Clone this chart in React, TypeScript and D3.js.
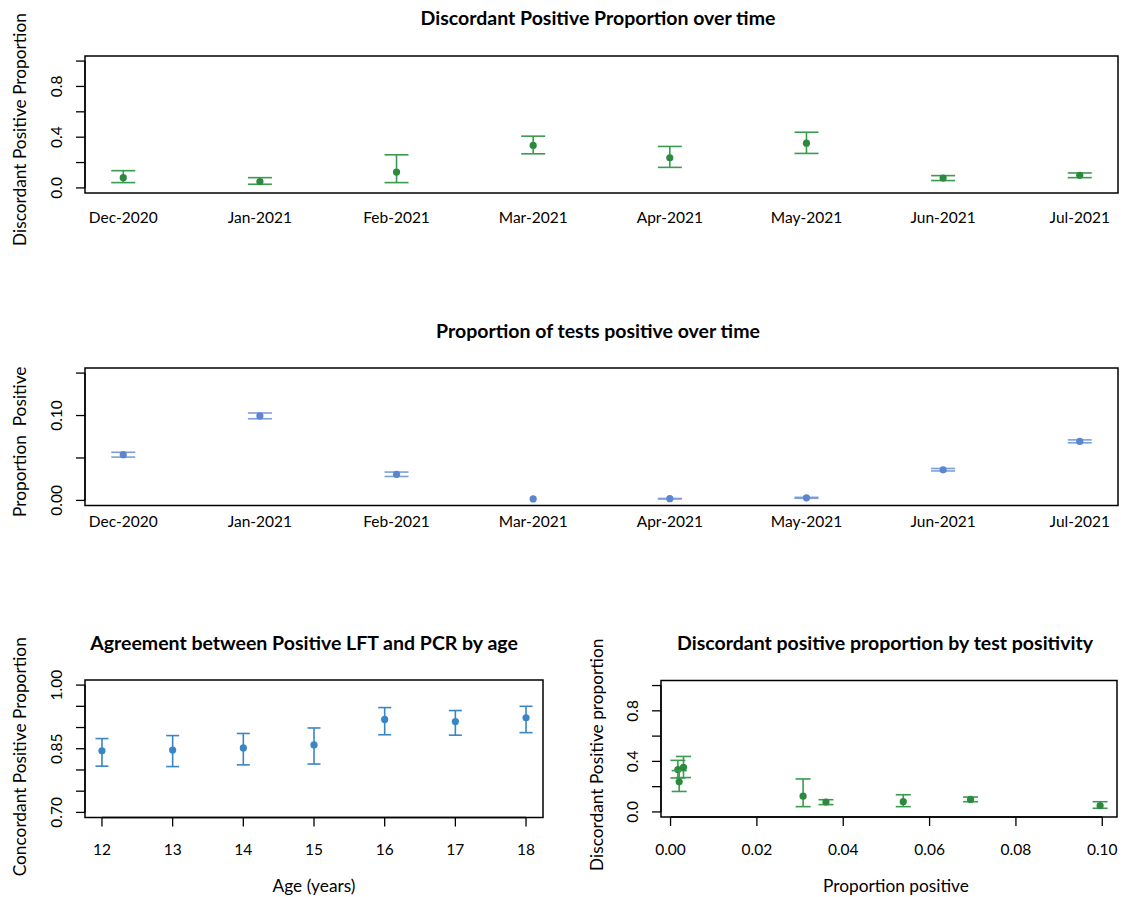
import * as d3 from 'd3';

// month categories for the time panels
const months = ['Dec-2020', 'Jan-2021', 'Feb-2021', 'Mar-2021', 'Apr-2021', 'May-2021', 'Jun-2021', 'Jul-2021'];

// discordant positive proportion (point, lower, upper)
const discordant = [0.081, 0.05, 0.125, 0.335, 0.238, 0.353, 0.078, 0.099];
const discordantLo = [0.042, 0.029, 0.042, 0.269, 0.162, 0.272, 0.058, 0.081];
const discordantHi = [0.136, 0.081, 0.261, 0.408, 0.327, 0.439, 0.097, 0.118];

// proportion of tests positive (point, lower, upper)
const propPositive = [0.0539, 0.0995, 0.0307, 0.0017, 0.002, 0.003, 0.036, 0.0695];
const propLo = [0.051, 0.0962, 0.0282, 0.0017, 0.0017, 0.0025, 0.0347, 0.0679];
const propHi = [0.0567, 0.103, 0.0334, 0.0017, 0.0023, 0.0036, 0.0376, 0.0713];

// concordance by age
const ages = [12, 13, 14, 15, 16, 17, 18];
const concordant = [0.845, 0.847, 0.852, 0.859, 0.919, 0.914, 0.923];
const concordantLo = [0.809, 0.808, 0.812, 0.814, 0.883, 0.882, 0.888];
const concordantHi = [0.874, 0.881, 0.886, 0.899, 0.947, 0.94, 0.95];

// tick values + which ones get a label
const discordantTicks = [0, 0.2, 0.4, 0.6, 0.8, 1.0];
const discordantTickLabels = ['0.0', '', '0.4', '', '0.8', ''];
const positiveTicks = [0, 0.05, 0.1, 0.15];
const positiveTickLabels = ['0.00', '', '0.10', ''];
const concordantTicks = [0.7, 0.75, 0.8, 0.85, 0.9, 0.95, 1.0];
const concordantTickLabels = ['0.70', '', '', '0.85', '', '', '1.00'];
const positivityTicks = [0, 0.02, 0.04, 0.06, 0.08, 0.1];
const positivityTickLabels = ['0.00', '0.02', '0.04', '0.06', '0.08', '0.10'];

const FONT = 'Lato, "Open Sans", sans-serif';
const GREEN = '#2b8a3e';
const GREEN_BAR = '#3a9a4e';
const BLUE = '#5b86cf';
const BLUE_BAR = '#7d9edb';
const STEEL = '#3a85c3';

const TICK_FS = 15.5;
const LAB_FS = 17.3;
const TITLE_FS = 19.5;

// R style 4% axis expansion
const expand = (ext: number[]) => {
  const pad = (ext[1] - ext[0]) * 0.04;
  return [ext[0] - pad, ext[1] + pad];
};

function YAxis({ scale, ticks, labels, x, labelX }: any) {
  return (
    <g>
      <line x1={x} x2={x} y1={scale(ticks[0])} y2={scale(ticks[ticks.length - 1])} stroke="#000" strokeWidth={1.3} />
      {ticks.map((t: number, i: number) => (
        <g key={i}>
          <line x1={x - 9} x2={x} y1={scale(t)} y2={scale(t)} stroke="#000" strokeWidth={1.3} />
          {labels[i] && (
            <text
              transform={`translate(${labelX},${scale(t)}) rotate(-90)`}
              textAnchor="middle"
              dy="0.35em"
              fontSize={TICK_FS}
            >
              {labels[i]}
            </text>
          )}
        </g>
      ))}
    </g>
  );
}

function XAxis({ scale, ticks, labels, y, labelY }: any) {
  return (
    <g>
      <line x1={scale(ticks[0])} x2={scale(ticks[ticks.length - 1])} y1={y} y2={y} stroke="#000" strokeWidth={1.3} />
      {ticks.map((t: number, i: number) => (
        <g key={i}>
          <line x1={scale(t)} x2={scale(t)} y1={y} y2={y + 9} stroke="#000" strokeWidth={1.3} />
          <text x={scale(t)} y={labelY} textAnchor="middle" dy="0.35em" fontSize={TICK_FS}>
            {labels[i]}
          </text>
        </g>
      ))}
    </g>
  );
}

function ErrorBar({ x, y, lo, hi, half, color, barColor }: any) {
  // zero length intervals are skipped, like arrows() does
  const show = Math.abs(lo - hi) > 0.01;
  return (
    <g>
      {show && (
        <g stroke={barColor} strokeWidth={1.6}>
          <line x1={x} x2={x} y1={lo} y2={hi} />
          <line x1={x - half} x2={x + half} y1={lo} y2={lo} />
          <line x1={x - half} x2={x + half} y1={hi} y2={hi} />
        </g>
      )}
      <circle cx={x} cy={y} r={3.6} fill={color} />
    </g>
  );
}

export default function App() {
  const width = 1126;
  const height = 897;

  // top + middle panels share the month x scale
  const monthIdx = months.map((_, i) => i + 1);
  const xMonth = d3.scaleLinear().domain(expand([1, months.length])).range([85, 1118]);

  const yTop = d3.scaleLinear().domain(expand([0, 1])).range([193, 56]);
  const yMid = d3.scaleLinear().domain(expand([0, 0.15])).range([505.5, 368]);

  // bottom left
  const xAge = d3.scaleLinear().domain(expand([ages[0], ages[ages.length - 1]])).range([85, 543]);
  const yAge = d3.scaleLinear().domain(expand([0.7, 1.0])).range([817.5, 680]);

  // bottom right
  const xPos = d3.scaleLinear().domain(expand(d3.extent(propPositive) as number[])).range([661, 1117]);
  const yPos = d3.scaleLinear().domain(expand([0, 1])).range([817, 680.5]);

  const box = (xs: any, ys: any) => {
    const [x0, x1] = xs.range();
    const [y0, y1] = ys.range();
    return <rect x={x0} y={y1} width={x1 - x0} height={y0 - y1} fill="none" stroke="#000" strokeWidth={1.5} />;
  };

  return (
    <svg
      width={width}
      height={height}
      style={{ position: 'absolute', left: 0, top: 0, background: '#fff' }}
      fontFamily={FONT}
    >
      <rect width={width} height={height} fill="#fff" />

      {/* ---- top: discordant over time ---- */}
      <text x={598} y={18} textAnchor="middle" dy="0.35em" fontSize={TITLE_FS} fontWeight="bold">
        Discordant Positive Proportion over time
      </text>
      {box(xMonth, yTop)}
      <YAxis scale={yTop} ticks={discordantTicks} labels={discordantTickLabels} x={85} labelX={57} />
      <text transform={`translate(20,${(193 + 56) / 2 + 5}) rotate(-90)`} textAnchor="middle" dy="0.35em" fontSize={LAB_FS}>
        Discordant Positive Proportion
      </text>
      {months.map((m, i) => (
        <text key={m} x={xMonth(monthIdx[i])} y={218} textAnchor="middle" dy="0.35em" fontSize={TICK_FS}>
          {m}
        </text>
      ))}
      {months.map((m, i) => (
        <ErrorBar
          key={m}
          x={xMonth(monthIdx[i])}
          y={yTop(discordant[i])}
          lo={yTop(discordantLo[i])}
          hi={yTop(discordantHi[i])}
          half={12}
          color={GREEN}
          barColor={GREEN_BAR}
        />
      ))}

      {/* ---- middle: proportion positive over time ---- */}
      <text x={598} y={331} textAnchor="middle" dy="0.35em" fontSize={TITLE_FS} fontWeight="bold">
        Proportion of tests positive over time
      </text>
      {box(xMonth, yMid)}
      <YAxis scale={yMid} ticks={positiveTicks} labels={positiveTickLabels} x={85} labelX={57} />
      <text transform={`translate(20,${(505.5 + 368) / 2 + 5}) rotate(-90)`} textAnchor="middle" dy="0.35em" fontSize={LAB_FS} style={{ whiteSpace: 'pre' }}>
        {'Proportion  Positive'}
      </text>
      {months.map((m, i) => (
        <text key={m} x={xMonth(monthIdx[i])} y={522} textAnchor="middle" dy="0.35em" fontSize={TICK_FS}>
          {m}
        </text>
      ))}
      {months.map((m, i) => (
        <ErrorBar
          key={m}
          x={xMonth(monthIdx[i])}
          y={yMid(propPositive[i])}
          lo={yMid(propLo[i])}
          hi={yMid(propHi[i])}
          half={12}
          color={BLUE}
          barColor={BLUE_BAR}
        />
      ))}

      {/* ---- bottom left: concordance by age ---- */}
      <text x={304} y={643} textAnchor="middle" dy="0.35em" fontSize={TITLE_FS} fontWeight="bold">
        Agreement between Positive LFT and PCR by age
      </text>
      {box(xAge, yAge)}
      <YAxis scale={yAge} ticks={concordantTicks} labels={concordantTickLabels} x={85} labelX={57} />
      <XAxis scale={xAge} ticks={ages} labels={ages.map(String)} y={817.5} labelY={850} />
      <text transform={`translate(20,${(817.5 + 680) / 2 + 8}) rotate(-90)`} textAnchor="middle" dy="0.35em" fontSize={LAB_FS}>
        Concordant Positive Proportion
      </text>
      <text x={314} y={886} textAnchor="middle" dy="0.35em" fontSize={LAB_FS}>
        Age (years)
      </text>
      {ages.map((a, i) => (
        <ErrorBar
          key={a}
          x={xAge(a)}
          y={yAge(concordant[i])}
          lo={yAge(concordantLo[i])}
          hi={yAge(concordantHi[i])}
          half={6.5}
          color={STEEL}
          barColor={STEEL}
        />
      ))}

      {/* ---- bottom right: discordant vs positivity ---- */}
      <text x={885} y={643} textAnchor="middle" dy="0.35em" fontSize={TITLE_FS} fontWeight="bold">
        Discordant positive proportion by test positivity
      </text>
      {box(xPos, yPos)}
      <YAxis scale={yPos} ticks={discordantTicks} labels={discordantTickLabels} x={661} labelX={633} />
      <XAxis scale={xPos} ticks={positivityTicks} labels={positivityTickLabels} y={817} labelY={850} />
      <text transform={`translate(597,${(817 + 680.5) / 2 + 6}) rotate(-90)`} textAnchor="middle" dy="0.35em" fontSize={LAB_FS}>
        Discordant Positive proportion
      </text>
      <text x={896} y={886} textAnchor="middle" dy="0.35em" fontSize={LAB_FS}>
        Proportion positive
      </text>
      {months.map((m, i) => (
        <ErrorBar
          key={m}
          x={xPos(propPositive[i])}
          y={yPos(discordant[i])}
          lo={yPos(discordantLo[i])}
          hi={yPos(discordantHi[i])}
          half={7.5}
          color={GREEN}
          barColor={GREEN_BAR}
        />
      ))}
    </svg>
  );
}
